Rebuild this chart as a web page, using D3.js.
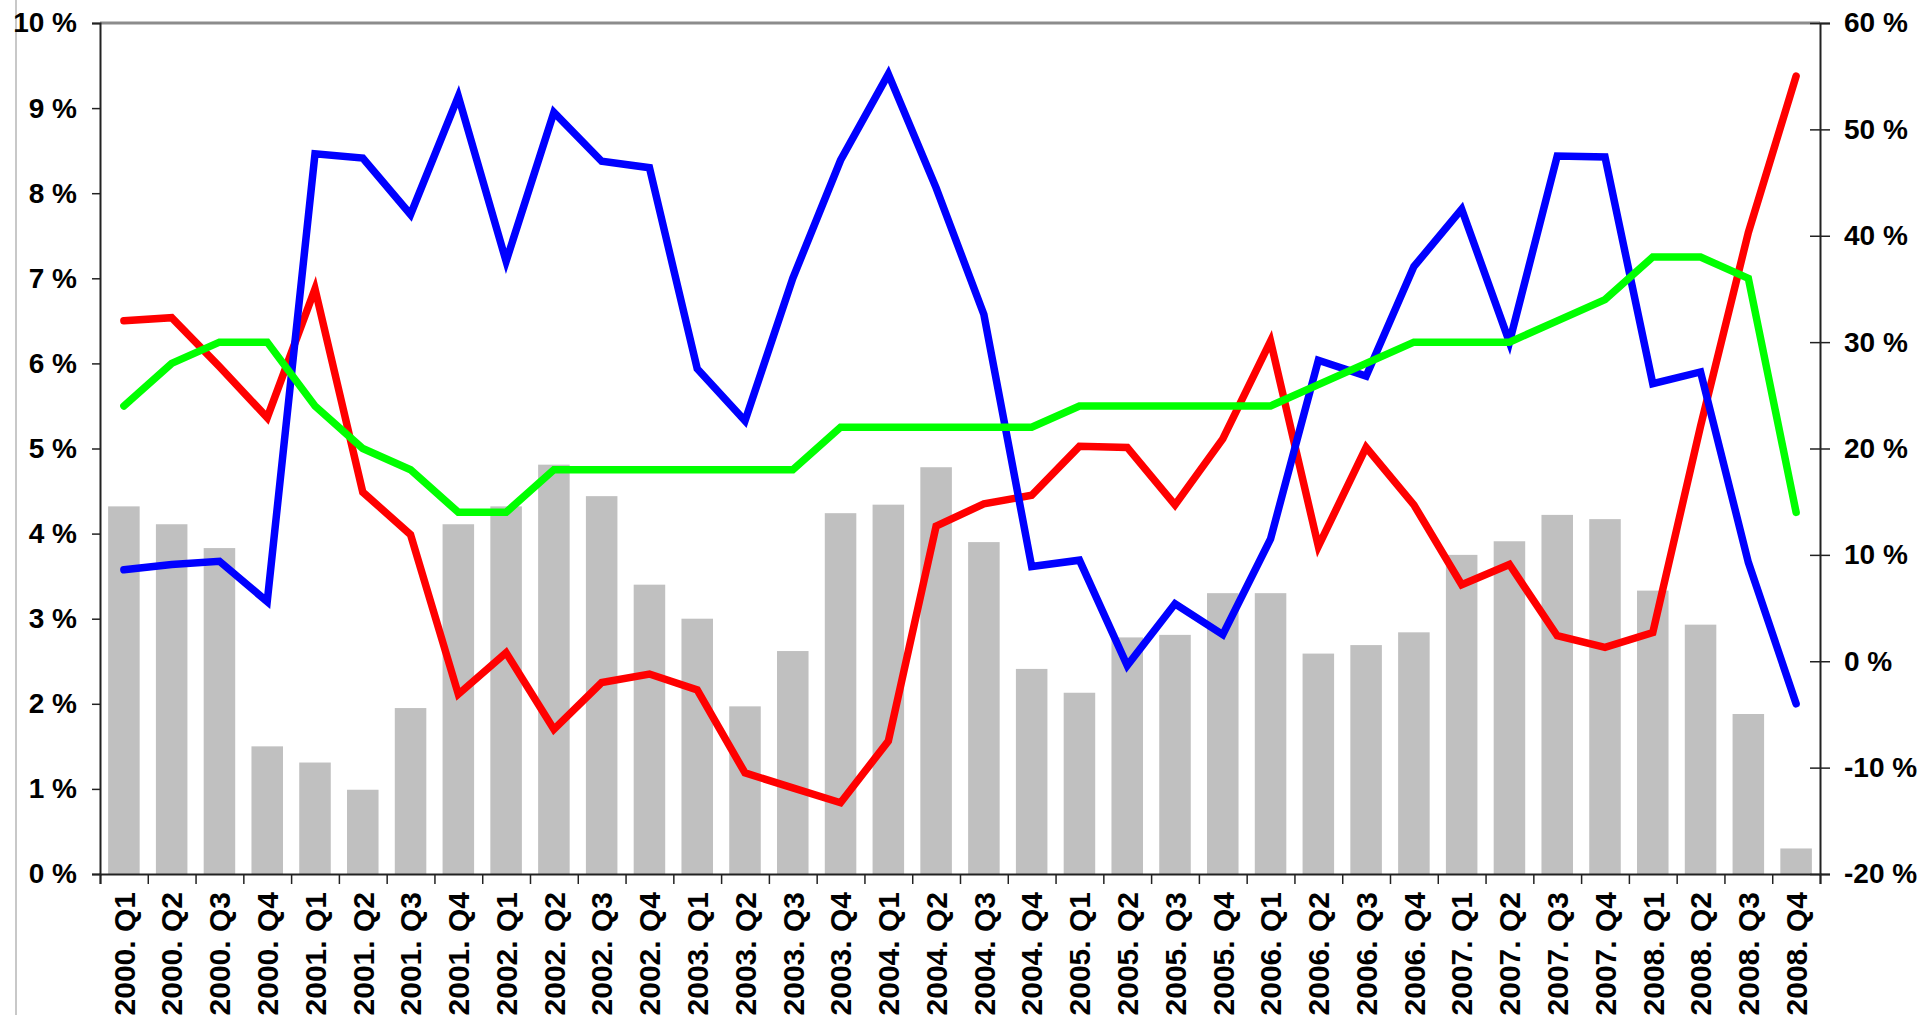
<!DOCTYPE html>
<html>
<head>
<meta charset="utf-8">
<script src="https://cdn.jsdelivr.net/npm/d3@7"></script>
<style>
  body { margin: 0; background: #fff; }
  svg { display: block; }
  .axis text { font-family: "Liberation Sans", Arial, sans-serif; font-weight: bold; fill: #000; }
</style>
</head>
<body>
<script>
var quarters = ['2000. Q1','2000. Q2','2000. Q3','2000. Q4','2001. Q1','2001. Q2','2001. Q3','2001. Q4',
  '2002. Q1','2002. Q2','2002. Q3','2002. Q4','2003. Q1','2003. Q2','2003. Q3','2003. Q4',
  '2004. Q1','2004. Q2','2004. Q3','2004. Q4','2005. Q1','2005. Q2','2005. Q3','2005. Q4',
  '2006. Q1','2006. Q2','2006. Q3','2006. Q4','2007. Q1','2007. Q2','2007. Q3','2007. Q4',
  '2008. Q1','2008. Q2','2008. Q3','2008. Q4'];

// gray bars, left axis (%)
var barValues = [4.32,4.11,3.83,1.50,1.31,0.99,1.95,4.11,4.32,4.81,4.44,3.40,3.00,1.97,2.62,4.24,
  4.34,4.78,3.90,2.41,2.13,2.78,2.81,3.30,3.30,2.59,2.69,2.84,3.75,3.91,4.22,4.17,3.33,2.93,1.88,0.30];

// lines, right axis (%)
var redValues = [32.0,32.3,27.7,22.9,35.0,15.9,11.9,-3.1,0.8,-6.4,-2.0,-1.2,-2.7,-10.5,-11.9,-13.3,
  -7.5,12.7,14.8,15.6,20.2,20.1,14.7,20.9,30.1,10.8,20.1,14.7,7.2,9.1,2.4,1.3,2.7,22.1,40.3,55.0];
var blueValues = [8.6,9.1,9.4,5.6,47.7,47.3,42.0,53.1,37.6,51.6,47.0,46.4,27.5,22.6,36.0,47.1,
  55.2,44.5,32.6,8.9,9.5,-0.4,5.4,2.5,11.5,28.3,26.8,37.1,42.5,30.0,47.5,47.4,26.1,27.2,9.3,-4.0];
var greenValues = [24,28,30,30,24,20,18,14,14,18,18,18,18,18,18,22,
  22,22,22,22,24,24,24,24,24,26,28,30,30,30,32,34,38,38,36,14];

var leftTicks = d3.range(0, 11, 1);
var rightTicks = d3.range(-20, 61, 10);

var W = 1922, H = 1015;
var margin = {top: 23, left: 100, right: 102, bottom: 141};
var width = W - margin.left - margin.right,
    height = H - margin.top - margin.bottom;

var svg = d3.select("body").append("svg")
    .attr("width", W)
    .attr("height", H);

// chart area border on the left
svg.append("line")
    .attr("x1", 16).attr("x2", 16).attr("y1", 0).attr("y2", H)
    .attr("stroke", "#c8c8c8").attr("stroke-width", 2);

var g = svg.append("g")
    .attr("transform", "translate(" + margin.left + "," + margin.top + ")");

var xScale = d3.scaleBand()
    .domain(quarters)
    .range([0, width])
    .paddingInner(0.34)
    .paddingOuter(0.17);
var xEdge = d3.scaleLinear().domain([0, quarters.length]).range([0, width]);
var yLeft = d3.scaleLinear().domain([0, 10]).range([height, 0]);
var yRight = d3.scaleLinear().domain([-20, 60]).range([height, 0]);

// top border of plot area
g.append("line")
    .attr("x1", 0).attr("x2", width).attr("y1", 0).attr("y2", 0)
    .attr("stroke", "#8c8c8c").attr("stroke-width", 3);

// bars
g.selectAll("rect.bar")
    .data(barValues)
  .enter().append("rect")
    .attr("class", "bar")
    .attr("x", function(d, i) { return xScale(quarters[i]); })
    .attr("y", function(d) { return yLeft(d); })
    .attr("width", xScale.bandwidth())
    .attr("height", function(d) { return height - yLeft(d); })
    .attr("fill", "#c0c0c0");

// lines
var line = d3.line()
    .x(function(d, i) { return xScale(quarters[i]) + xScale.bandwidth() / 2; })
    .y(function(d) { return yRight(d); });

[[redValues, "#ff0000"], [blueValues, "#0000ff"], [greenValues, "#00ff00"]].forEach(function(s) {
  g.append("path")
    .datum(s[0])
    .attr("d", line)
    .attr("fill", "none")
    .attr("stroke", s[1])
    .attr("stroke-width", 7.5)
    .attr("stroke-linecap", "round")
    .attr("stroke-linejoin", "miter");
});

// axis-y left
var ax1 = g.append("g")
    .attr("class", "axis")
    .call(d3.axisLeft(yLeft).tickValues(leftTicks).tickSize(8).tickPadding(15)
      .tickFormat(function(d) { return d + " %"; }));
ax1.selectAll("text").style("font-size", "28px");

// axis-y right, ticks crossing the line
var ax2 = g.append("g")
    .attr("class", "axis")
    .attr("transform", "translate(" + width + ",0)")
    .call(d3.axisRight(yRight).tickValues(rightTicks).tickSize(10).tickPadding(14)
      .tickFormat(function(d) { return d + " %"; }));
ax2.selectAll(".tick").append("line").attr("x1", -10).attr("x2", 0).attr("stroke", "#000");
ax2.selectAll("text").style("font-size", "28px");

// axis-x: tick marks at category edges
g.append("g")
    .attr("class", "axis")
    .attr("transform", "translate(0," + height + ")")
    .call(d3.axisBottom(xEdge).tickValues(d3.range(quarters.length + 1)).tickSize(10).tickFormat(""));

// axis-x labels
var ax3 = g.append("g")
    .attr("class", "axis")
    .attr("transform", "translate(0," + height + ")")
    .call(d3.axisBottom(xScale).tickSize(0));
ax3.select(".domain").remove();
ax3.selectAll("text")
    .attr("transform", "rotate(-90)")
    .attr("x", -18)
    .attr("y", 0)
    .attr("dy", "0.36em")
    .style("text-anchor", "end")
    .style("font-size", "30px");

g.selectAll(".axis .domain").attr("stroke", "#222").attr("stroke-width", 2);
g.selectAll(".axis .tick line").attr("stroke", "#222").attr("stroke-width", 1.5);
</script>
</body>
</html>
